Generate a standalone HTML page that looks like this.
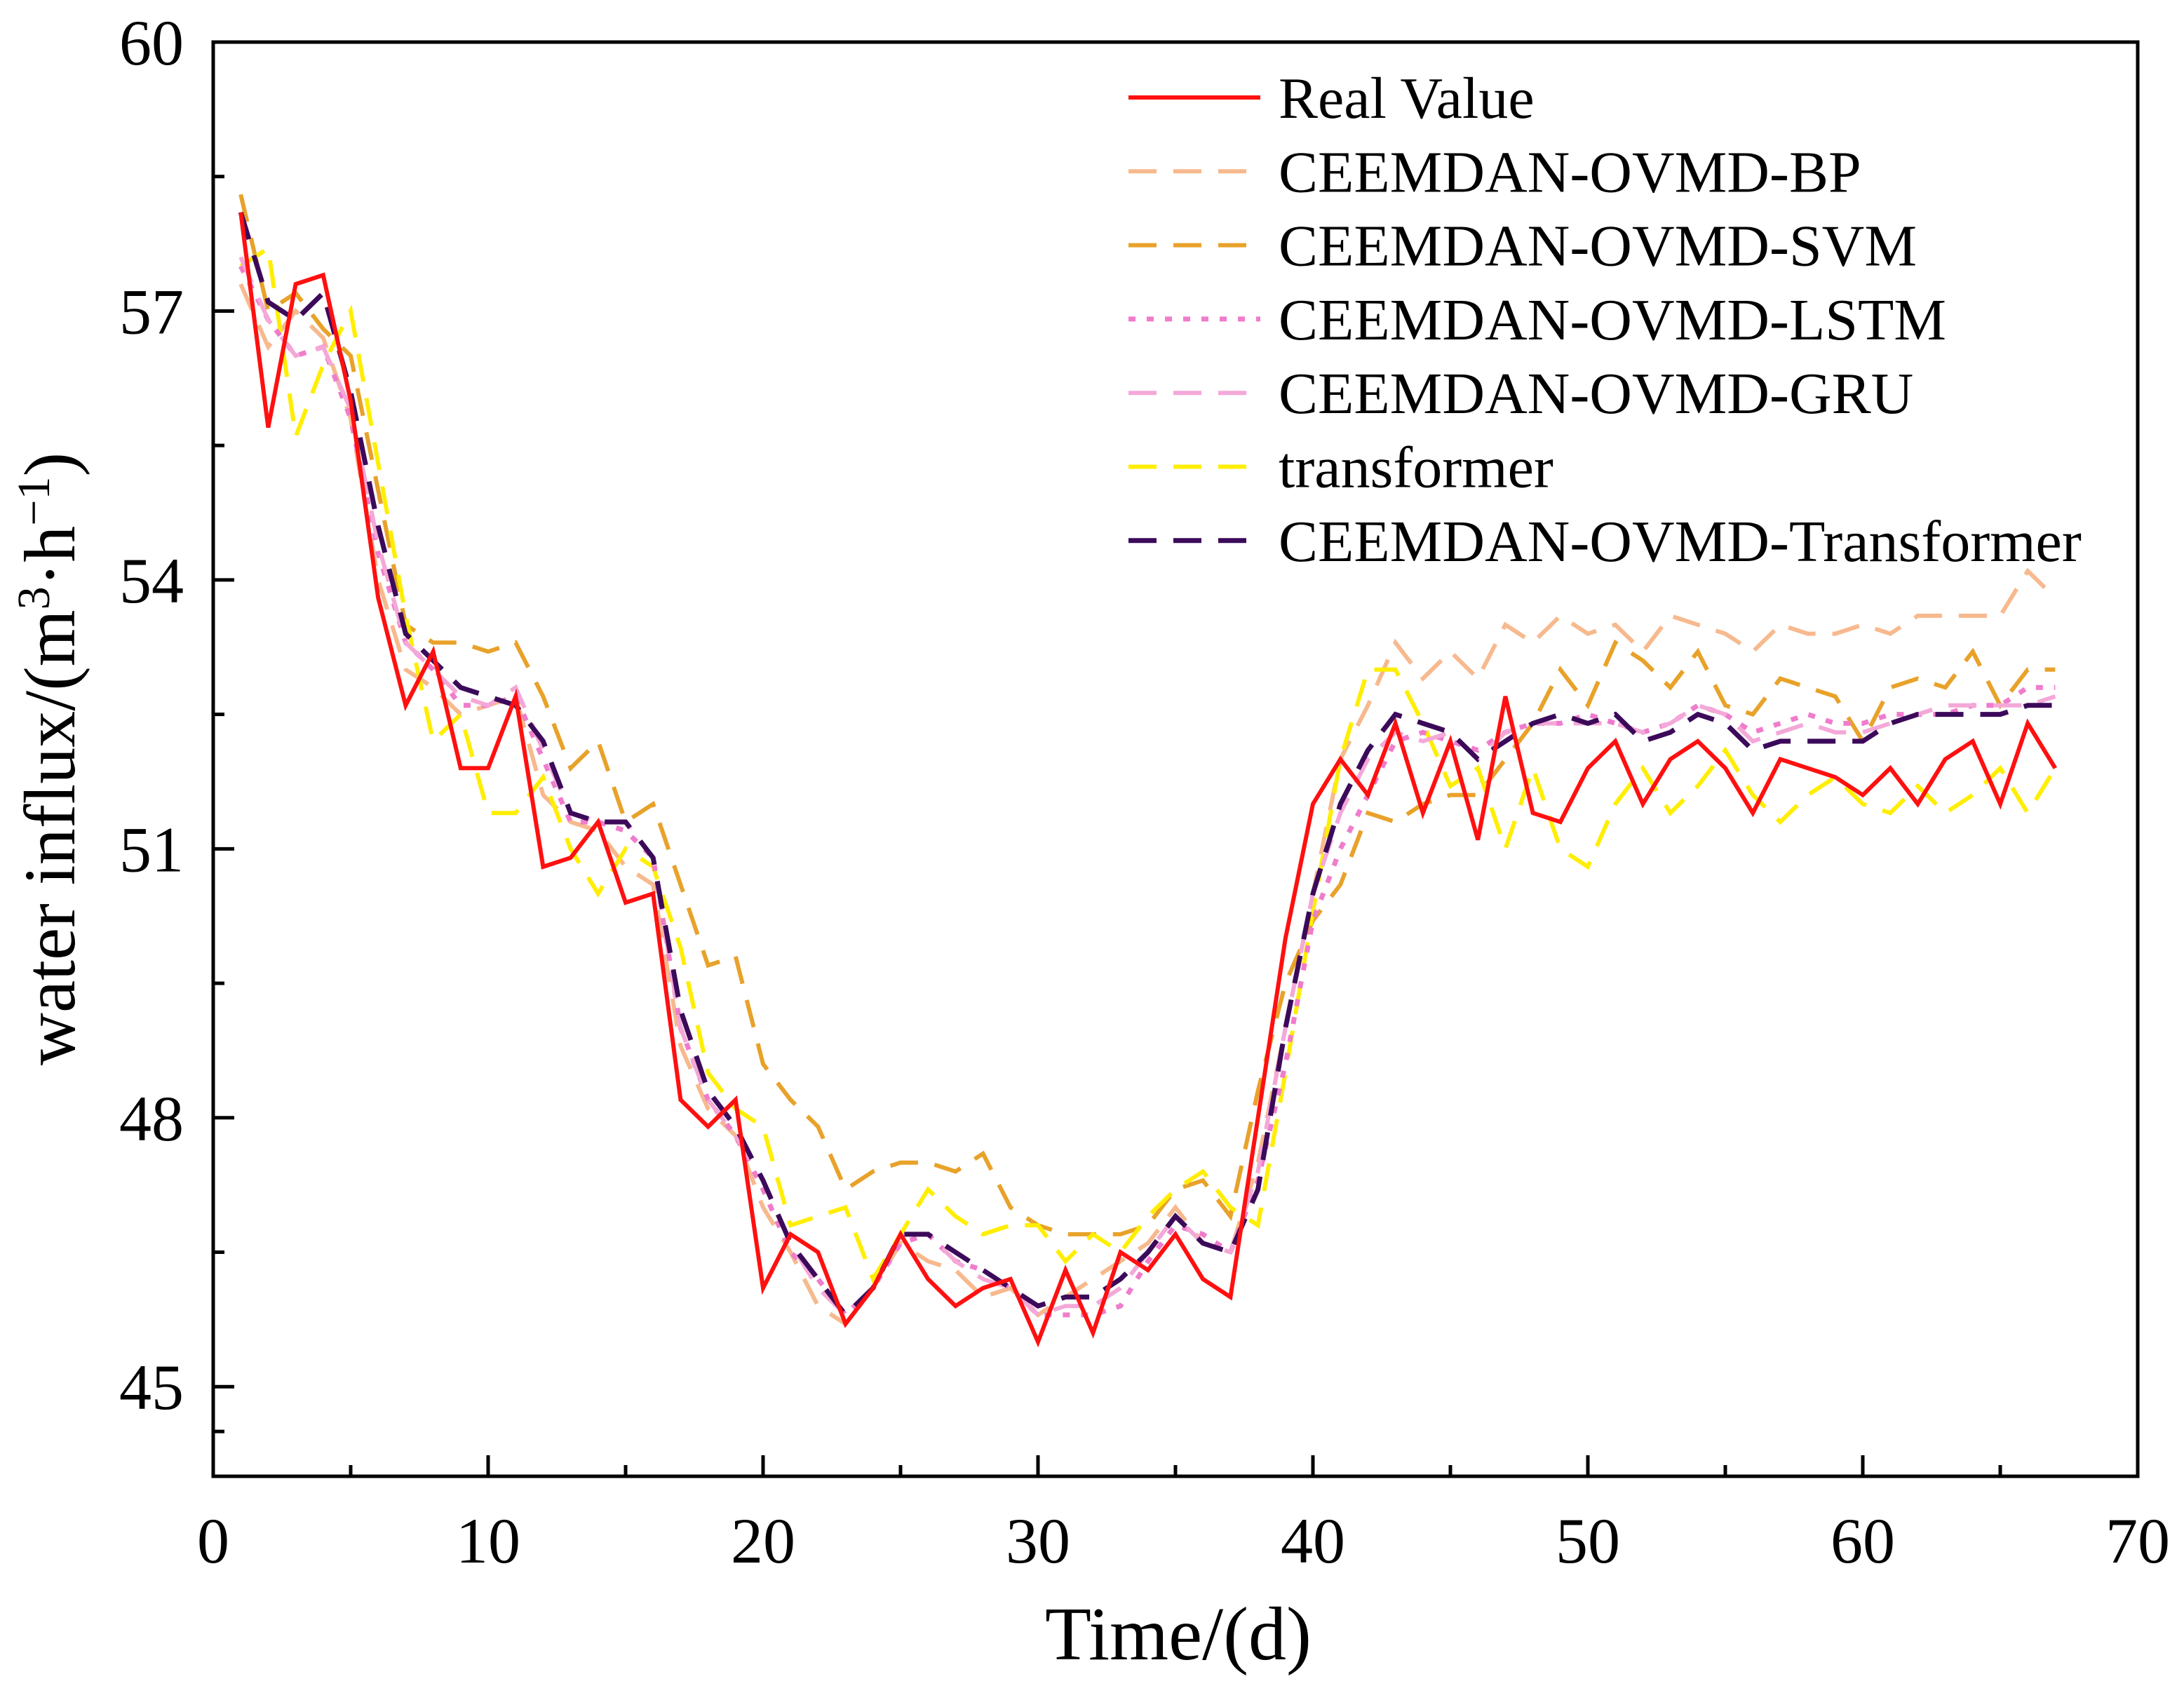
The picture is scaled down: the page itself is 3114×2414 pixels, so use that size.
<!DOCTYPE html>
<html><head><meta charset="utf-8"><style>
html,body{margin:0;padding:0;background:#fff;}
svg text{font-family:"Liberation Serif",serif;fill:#000;}
</style></head><body>
<svg id="chart" width="3114" height="2409" viewBox="0 0 3114 2409" xmlns="http://www.w3.org/2000/svg">
<rect x="0" y="0" width="3114" height="2409" fill="#fff"/>
<g id="series"></g>
<g id="axes"></g>
<g id="legend"></g>
</svg>
<script>
const days = Array.from({length:67},(_,i)=>i+1);
const realValue = [58.1,55.7,57.3,57.4,56.0,53.8,52.6,53.2,51.9,51.9,52.7,50.8,50.9,51.3,50.4,50.5,48.2,47.9,48.2,46.1,46.7,46.5,45.7,46.1,46.7,46.2,45.9,46.1,46.2,45.5,46.3,45.6,46.5,46.3,46.7,46.2,46.0,48.0,50.0,51.5,52.0,51.6,52.4,51.4,52.2,51.1,52.7,51.4,51.3,51.9,52.2,51.5,52.0,52.2,51.9,51.4,52.0,51.9,51.8,51.6,51.9,51.5,52.0,52.2,51.5,52.4,51.9];
const bpValues = [57.3,56.6,57.0,56.7,55.8,54.0,53.0,52.8,52.5,52.6,52.7,51.6,51.3,51.2,50.8,50.6,48.8,48.1,47.8,47.0,46.5,45.9,45.7,46.1,46.6,46.4,46.3,46.0,46.1,45.8,46.0,46.2,46.4,46.6,47.0,46.6,46.5,47.5,49.0,50.5,52.0,52.6,53.3,52.9,53.2,52.9,53.5,53.3,53.6,53.4,53.5,53.2,53.6,53.5,53.4,53.2,53.5,53.4,53.4,53.5,53.4,53.6,53.6,53.6,53.6,54.1,53.8];
const svmValues = [58.3,57.0,57.2,56.8,56.5,55.0,53.5,53.3,53.3,53.2,53.3,52.7,51.9,52.2,51.3,51.5,50.6,49.7,49.8,48.6,48.2,47.9,47.2,47.4,47.5,47.5,47.4,47.6,47.0,46.8,46.7,46.7,46.7,46.8,47.2,47.3,46.9,48.3,49.5,50.2,50.6,51.4,51.3,51.5,51.6,51.6,52.0,52.4,53.0,52.6,53.3,53.1,52.8,53.2,52.6,52.5,52.9,52.8,52.7,52.2,52.8,52.9,52.8,53.2,52.6,53.0,53.0];
const lstmValues = [57.5,56.9,56.5,56.6,55.8,54.3,53.3,53.0,52.6,52.6,52.7,52.0,51.3,51.3,51.2,50.9,49.0,48.2,47.8,47.2,46.5,46.2,45.8,46.1,46.6,46.7,46.4,46.3,46.1,45.8,45.8,45.8,45.9,46.4,46.8,46.7,46.5,47.3,48.6,50.2,51.0,51.6,52.2,52.3,52.2,52.1,52.3,52.4,52.4,52.5,52.4,52.3,52.4,52.6,52.5,52.3,52.4,52.5,52.4,52.4,52.5,52.5,52.5,52.6,52.6,52.8,52.8];
const gruValues = [57.6,56.9,56.5,56.6,55.9,54.4,53.3,53.0,52.7,52.6,52.8,52.1,51.4,51.3,51.3,50.9,49.0,48.2,47.8,47.3,46.6,46.1,45.8,46.1,46.7,46.7,46.4,46.2,46.1,45.8,45.9,45.9,46.1,46.5,46.9,46.6,46.5,47.4,49.0,50.5,51.4,52.0,52.3,52.2,52.3,52.0,52.3,52.4,52.4,52.4,52.4,52.3,52.4,52.6,52.5,52.2,52.3,52.4,52.3,52.3,52.4,52.5,52.6,52.6,52.6,52.6,52.7];
const transformerValues = [57.5,57.7,55.6,56.4,57.0,55.3,53.6,52.2,52.5,51.4,51.4,51.8,51.0,50.5,51.0,50.8,49.9,48.5,48.1,47.9,46.8,46.9,47.0,46.2,46.7,47.2,46.9,46.7,46.8,46.8,46.4,46.7,46.5,46.9,47.2,47.4,47.0,46.8,48.5,50.3,52.0,53.0,53.0,52.4,51.7,51.9,51.0,51.9,51.0,50.8,51.5,51.9,51.4,51.7,52.1,51.6,51.3,51.6,51.8,51.5,51.4,51.7,51.4,51.6,51.9,51.4,51.9];
const ceemdanTransformerValues = [58.1,57.1,56.9,57.2,56.1,54.6,53.4,53.1,52.8,52.7,52.6,52.2,51.4,51.3,51.3,50.9,49.2,48.3,47.9,47.3,46.6,46.2,45.8,46.1,46.7,46.7,46.5,46.3,46.1,45.9,46.0,46.0,46.2,46.5,46.9,46.6,46.5,47.2,49.0,50.5,51.5,52.1,52.5,52.4,52.3,52.0,52.2,52.4,52.5,52.4,52.5,52.2,52.3,52.5,52.4,52.1,52.2,52.2,52.2,52.2,52.4,52.5,52.5,52.5,52.5,52.6,52.6];
const xTicks = [0,10,20,30,40,50,60,70];
const yTicks = [45,48,51,54,57,60];
const seriesNames = ["Real Value","CEEMDAN-OVMD-BP","CEEMDAN-OVMD-SVM","CEEMDAN-OVMD-LSTM","CEEMDAN-OVMD-GRU","transformer","CEEMDAN-OVMD-Transformer"];

const L=304,R=3048,T=60,B=2105, XMIN=0,XMAX=70,YMIN=44,YMAX=60;
const xs=v=>L+(v-XMIN)/(XMAX-XMIN)*(R-L);
const ys=v=>B-(v-YMIN)/(YMAX-YMIN)*(B-T);
const NS="http://www.w3.org/2000/svg";
function mk(tag,attrs,parent){const e=document.createElementNS(NS,tag);for(const k in attrs)e.setAttribute(k,attrs[k]);parent.appendChild(e);return e;}

const styles=[
 {c:"#ff1010",d:"",w:6,key:"real-value"},
 {c:"#f7b98e",d:"40 24",w:6,key:"bp"},
 {c:"#e8a22a",d:"40 24",w:6,key:"svm"},
 {c:"#f07ccc",d:"10 16",w:7,key:"lstm"},
 {c:"#f4a8d8",d:"40 24",w:6,key:"gru"},
 {c:"#ffee00",d:"40 24",w:6,key:"transformer"},
 {c:"#3c0a5a",d:"40 24",w:7,key:"ceemdan-transformer"}];
const data=[realValue,bpValues,svmValues,lstmValues,gruValues,transformerValues,ceemdanTransformerValues];
const sg=document.getElementById('series');
const order=[1,2,5,3,4,6,0];
order.forEach(i=>{
 const pts=data[i].map((v,j)=>xs(days[j]).toFixed(1)+","+ys(v).toFixed(1)).join(" ");
 const p=mk('polyline',{points:pts,fill:"none",stroke:styles[i].c,"stroke-width":styles[i].w,"stroke-dasharray":styles[i].d,"stroke-linejoin":"miter"},sg);
 
 
});

const ag=document.getElementById('axes');
const frame=mk('rect',{x:L,y:T,width:R-L,height:B-T,fill:"none",stroke:"#000","stroke-width":5},ag);


xTicks.forEach(t=>{
 mk('line',{x1:xs(t),x2:xs(t),y1:B,y2:B-30,stroke:"#000","stroke-width":5},ag);
 if(t<70) mk('line',{x1:xs(t+5),x2:xs(t+5),y1:B,y2:B-16,stroke:"#000","stroke-width":5},ag);
 const tx=mk('text',{x:xs(t),y:2228,"font-size":92,"text-anchor":"middle"},ag);
 tx.textContent=t;
 
 
});
yTicks.forEach(t=>{
 mk('line',{x1:L,x2:L+30,y1:ys(t),y2:ys(t),stroke:"#000","stroke-width":5},ag);
 if(t>45) mk('line',{x1:L,x2:L+16,y1:ys(t-1.5),y2:ys(t-1.5),stroke:"#000","stroke-width":5},ag);
 const tx=mk('text',{x:262,y:ys(t)+32,"font-size":92,"text-anchor":"end"},ag);
 tx.textContent=t;
 
 
});
mk('line',{x1:L,x2:L+16,y1:ys(44.5),y2:ys(44.5),stroke:"#000","stroke-width":5},ag);
const xt=mk('text',{x:1680,y:2366,"font-size":108,"text-anchor":"middle"},ag);
xt.textContent="Time/(d)";


const yt=mk('text',{x:0,y:0,"font-size":104,"text-anchor":"middle",transform:"translate(106,1082) rotate(-90)"},ag);
yt.innerHTML='water influx/(m<tspan baseline-shift="super" font-size="66">3</tspan>·h<tspan baseline-shift="super" font-size="66">−1</tspan>)';



const lg=document.getElementById('legend');
seriesNames.forEach((n,i)=>{
 const y=139+i*105.3;
 const ln=mk('line',{x1:1609,x2:1797,y1:y,y2:y,stroke:styles[i].c,"stroke-width":styles[i].w,"stroke-dasharray":styles[i].d},lg);
 
 
 const tx=mk('text',{x:1823,y:y+29,"font-size":84},lg);
 tx.textContent=n;
 
 
});
</script>
</body></html>
